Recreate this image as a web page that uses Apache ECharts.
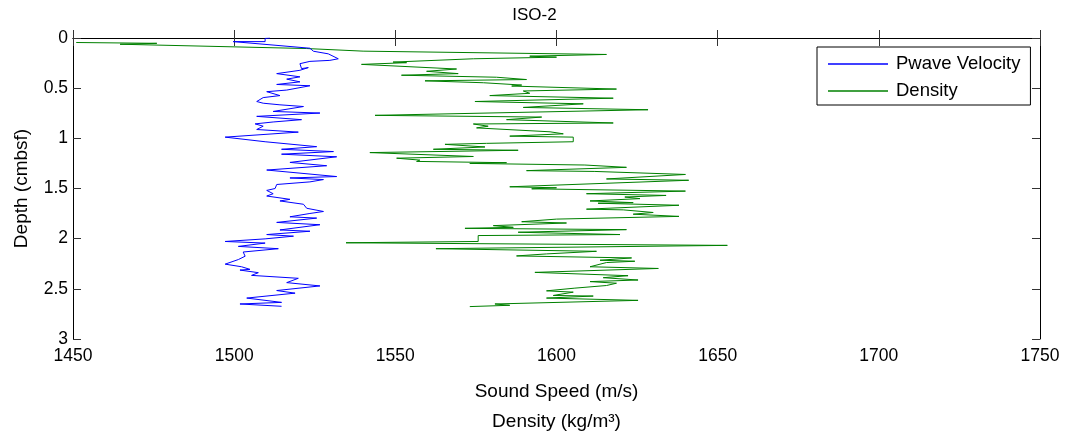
<!DOCTYPE html>
<html>
<head>
<meta charset="utf-8">
<script src="https://cdn.jsdelivr.net/npm/echarts@6/dist/echarts.min.js"></script>
<style>html,body{margin:0;padding:0;background:#fff}#c{width:1069px;height:442px}</style>
</head>
<body>
<div id="c"></div>
<script>
// Sound speed (m/s) and depth (cmbsf) for the P-wave velocity trace
var pwaveSpeed = [1511.1,1509.6,1509.6,1499.7,1499.7,1523.5,1524.6,1529.2,1532.3,1529.7,1523.5,1520.4,1520.9,1523,1520.4,1513.2,1520.4,1516.3,1520.4,1513.2,1523.5,1516.3,1510.1,1514.2,1509,1507,1509,1514.2,1521.5,1512.1,1526.6,1507,1520.9,1512.1,1506.5,1509,1507,1519.9,1497.2,1509.6,1510.1,1525.6,1514.7,1530.8,1514.7,1531.8,1517.3,1528.7,1510.1,1531.8,1517.3,1527.7,1523.5,1513.2,1512.7,1510.1,1512.1,1510.1,1517.3,1514.2,1521.5,1522.5,1527.7,1523.5,1517.3,1525.6,1513.2,1526.6,1514.2,1523.5,1510.1,1518.4,1509.6,1497.2,1509.6,1501.3,1513.7,1502.8,1503.4,1501.3,1497.2,1502.3,1504.9,1501.8,1507.5,1505.4,1519.9,1516.3,1526.6,1513.2,1518.9,1503.9,1514.7,1501.8,1514.7];
var pwaveDepth = [0,0.004,0.036,0.036,0.05,0.102,0.132,0.158,0.207,0.223,0.233,0.256,0.305,0.295,0.322,0.355,0.387,0.41,0.437,0.463,0.476,0.519,0.535,0.574,0.594,0.633,0.65,0.666,0.683,0.732,0.748,0.781,0.814,0.837,0.856,0.879,0.912,0.938,0.988,1.034,1.053,1.083,1.109,1.132,1.158,1.184,1.24,1.273,1.316,1.381,1.395,1.411,1.434,1.46,1.5,1.519,1.552,1.575,1.608,1.624,1.657,1.697,1.729,1.749,1.782,1.795,1.838,1.861,1.913,1.926,1.959,1.975,2.002,2.028,2.044,2.077,2.1,2.133,2.175,2.208,2.254,2.28,2.306,2.313,2.339,2.366,2.395,2.438,2.471,2.517,2.543,2.592,2.635,2.651,2.674];

// Density (kg/m3) and depth (cmbsf) for the density trace
var densityValue = [1451,1476,1464.6,1522.5,1540,1615.5,1591.7,1600,1574.2,1549.3,1553.5,1539.5,1569,1559.7,1569.5,1551.9,1581.4,1590.7,1559.2,1577.3,1589.2,1586.1,1618.6,1589.7,1591.7,1579.3,1617.6,1574.7,1608.3,1589.7,1628.4,1543.7,1595.4,1584.5,1617.6,1574.2,1578.8,1575.2,1598,1602.1,1585.5,1605.2,1605.2,1578.3,1565.4,1577.8,1561.8,1588.1,1542.1,1574.2,1550.4,1557.6,1556.6,1584.5,1573.1,1608.8,1621.7,1590.7,1611.9,1640,1615.5,1641,1585.5,1600,1592.3,1640,1609.3,1634,1621.2,1625.9,1610.4,1623.8,1612.9,1638,1609.3,1620.7,1630,1623.8,1638,1600,1589.2,1603.1,1580.4,1586.6,1571.6,1621.7,1588.1,1619.7,1575.7,1575.7,1534.7,1653,1562.6,1612.4,1596.9,1587.6,1623.3,1613.5,1624.3,1615.5,1610.4,1631.6,1593.3,1622.2,1614.5,1625.3,1610.4,1618.6,1615.5,1605.7,1596.9,1605.2,1599,1611.4,1596.9,1625.3,1580.9,1585.5,1573.1];
var densityDepth = [0.045,0.053,0.062,0.105,0.131,0.164,0.181,0.191,0.207,0.24,0.246,0.263,0.309,0.332,0.355,0.371,0.391,0.414,0.427,0.446,0.469,0.479,0.509,0.528,0.551,0.574,0.6,0.633,0.656,0.692,0.715,0.771,0.788,0.814,0.847,0.857,0.879,0.896,0.935,0.955,0.978,0.988,1.034,1.05,1.06,1.086,1.109,1.119,1.142,1.181,1.198,1.217,1.23,1.243,1.25,1.266,1.289,1.322,1.33,1.36,1.405,1.418,1.483,1.493,1.503,1.526,1.552,1.569,1.585,1.601,1.624,1.641,1.647,1.667,1.706,1.713,1.739,1.756,1.778,1.805,1.831,1.844,1.87,1.887,1.897,1.91,1.936,1.959,1.969,2.028,2.041,2.067,2.1,2.126,2.152,2.172,2.192,2.215,2.225,2.238,2.28,2.297,2.336,2.369,2.389,2.412,2.428,2.444,2.467,2.493,2.52,2.533,2.566,2.572,2.592,2.615,2.651,2.664,2.677];

var xTicks = {min: 1450, max: 1750, interval: 50};
var yTicks = {min: 0, max: 3, interval: 0.5};
var seriesNames = ['Pwave Velocity', 'Density'];

function pairs(xs, ys) { var o = []; for (var i = 0; i < xs.length; i++) o.push([xs[i], ys[i]]); return o; }

var FONT = '"Liberation Sans", Arial, Helvetica, sans-serif';
var chart = echarts.init(document.getElementById('c'), null, {renderer: 'canvas'});
var tickStyle = {show: true, inside: true, length: 8, lineStyle: {color: '#333', width: 1}};
var lineStyle = {show: true, lineStyle: {color: '#000', width: 1}};
function plain(v) { return String(v); }
chart.setOption({
  animation: false,
  backgroundColor: '#fff',
  title: {text: 'ISO-2', left: 'center', top: 2, textStyle: {fontFamily: FONT, fontSize: 17, fontWeight: 'normal', color: '#000'}},
  legend: {
    orient: 'vertical', left: 817, top: 47,
    data: seriesNames,
    icon: 'rect', itemWidth: 60, itemHeight: 1.5, itemGap: 7,
    padding: [7, 10, 4, 11],
    borderColor: '#000', borderWidth: 1, backgroundColor: '#fff',
    textStyle: {fontFamily: FONT, fontSize: 18.5, color: '#000', lineHeight: 20, padding: [0, 0, 0, 3]}
  },
  grid: {left: 73, right: 29, top: 38, bottom: 99, containLabel: false},
  xAxis: [
    {type: 'value', position: 'bottom', min: xTicks.min, max: xTicks.max, interval: xTicks.interval,
     axisLine: lineStyle, axisTick: tickStyle, splitLine: {show: false},
     axisLabel: {fontFamily: FONT, fontSize: 17.5, color: '#000', margin: 8, formatter: plain},
     name: 'Sound Speed (m/s)\nDensity (kg/m\u00b3)', nameLocation: 'middle', nameGap: 38,
     nameTextStyle: {fontFamily: FONT, fontSize: 19, color: '#000', lineHeight: 30}},
    {type: 'value', position: 'top', min: xTicks.min, max: xTicks.max, interval: xTicks.interval,
     axisLine: lineStyle, axisTick: tickStyle, axisLabel: {show: false}, splitLine: {show: false}}
  ],
  yAxis: [
    {type: 'value', position: 'left', inverse: true, min: yTicks.min, max: yTicks.max, interval: yTicks.interval,
     axisLine: lineStyle, axisTick: tickStyle, splitLine: {show: false},
     axisLabel: {fontFamily: FONT, fontSize: 17.5, color: '#000', margin: 5, formatter: plain},
     name: 'Depth (cmbsf)', nameLocation: 'middle', nameRotate: 90, nameGap: 42,
     nameTextStyle: {fontFamily: FONT, fontSize: 19, color: '#000'}},
    {type: 'value', position: 'right', inverse: true, min: yTicks.min, max: yTicks.max, interval: yTicks.interval,
     axisLine: lineStyle, axisTick: tickStyle, axisLabel: {show: false}, splitLine: {show: false}}
  ],
  series: [
    {name: seriesNames[0], type: 'line', xAxisIndex: 0, yAxisIndex: 0, data: pairs(pwaveSpeed, pwaveDepth),
     showSymbol: false, symbol: 'none', color: '#0000ff', lineStyle: {color: '#0000ff', width: 1}, z: 3},
    {name: seriesNames[1], type: 'line', xAxisIndex: 0, yAxisIndex: 0, data: pairs(densityValue, densityDepth),
     showSymbol: false, symbol: 'none', color: '#008000', lineStyle: {color: '#008000', width: 1}, z: 2}
  ]
});
</script>
</body>
</html>
